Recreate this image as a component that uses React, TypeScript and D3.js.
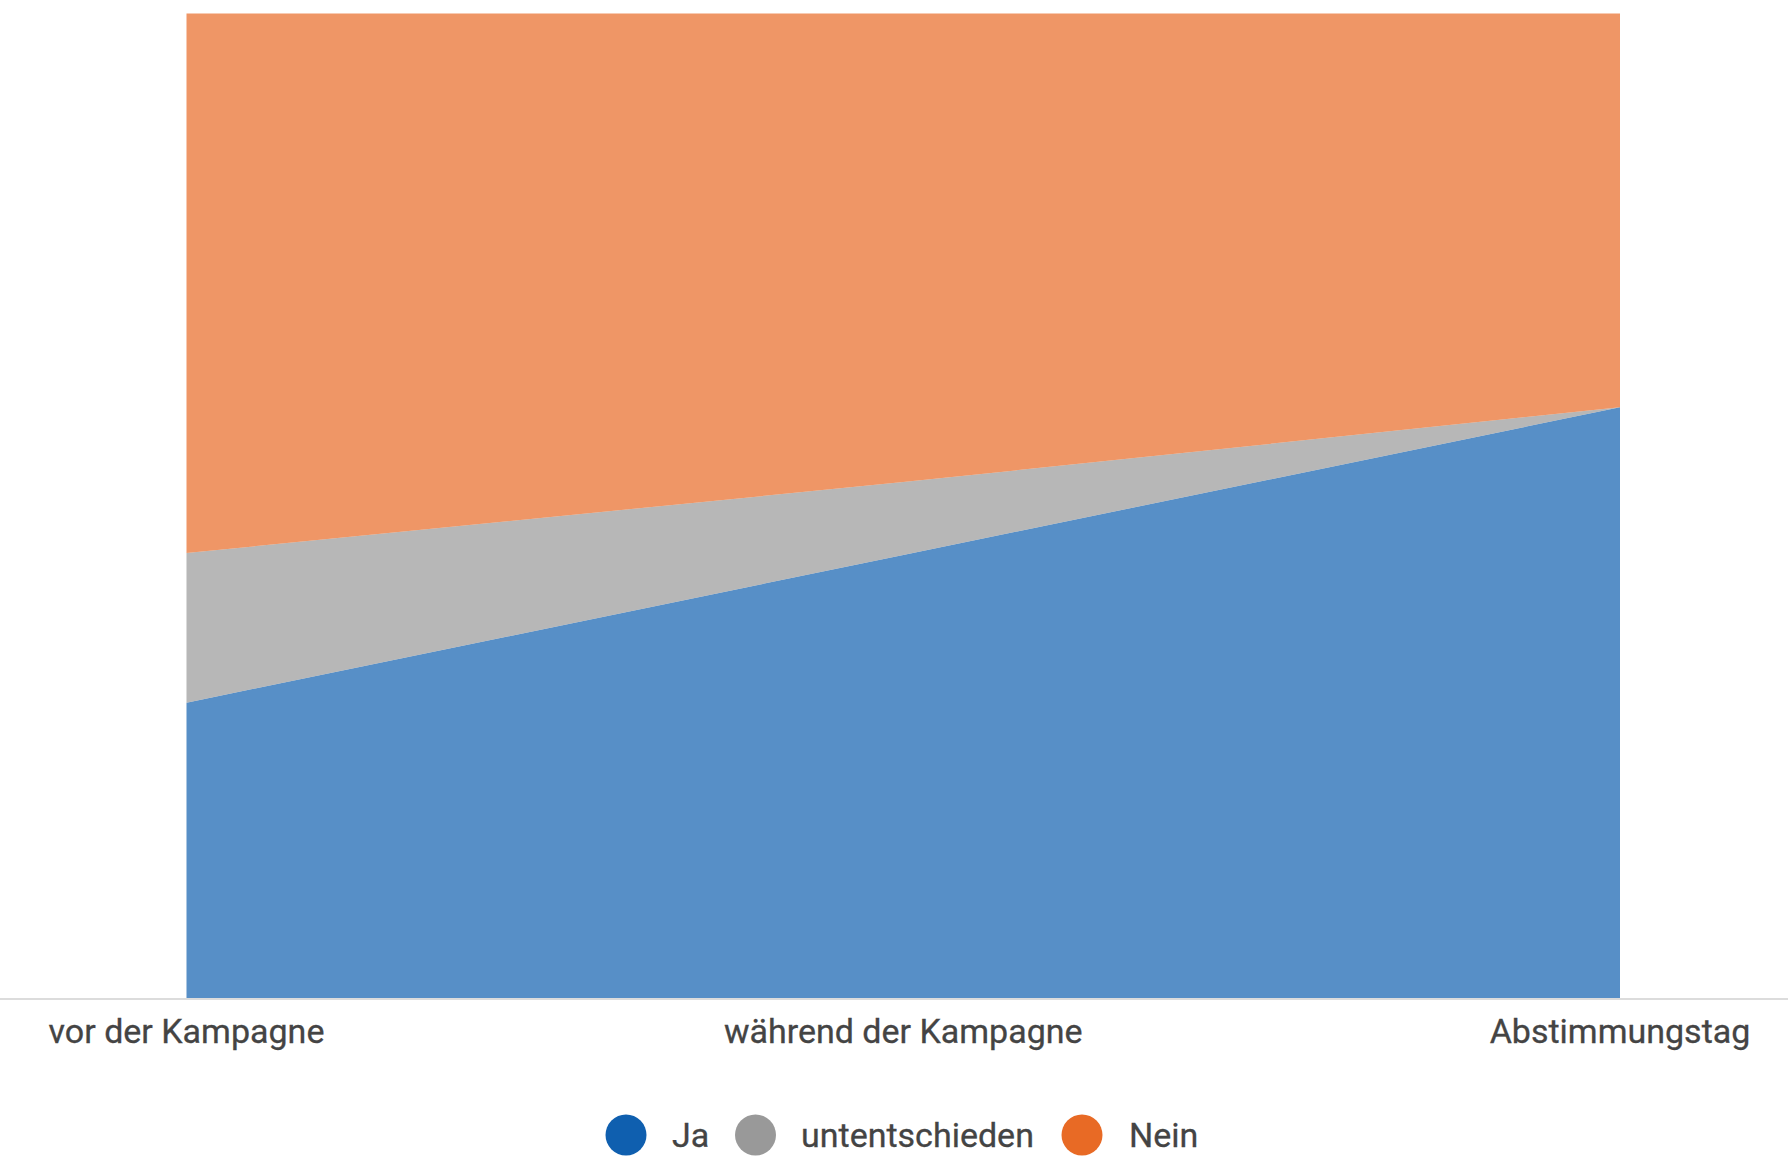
import React from "react";
import * as d3 from "d3";

const categories = ["vor der Kampagne", "während der Kampagne", "Abstimmungstag"];
const seriesKeys = ["Ja", "untentschieden", "Nein"];
const jaValues = [30, 45, 60];
const undecidedValues = [15.2, 7.4, 0];
const neinValues = [54.8, 47.6, 40];
const seriesColors = ["#0F5FAF", "#999999", "#E86A25"];

const W = 1788;
const H = 1157;
const left = 186.5;
const right = 1620;
const top = 13.5;
const bottom = 998;

export default function App() {
  const rows = categories.map((c, i) => ({
    cat: c,
    Ja: jaValues[i],
    untentschieden: undecidedValues[i],
    Nein: neinValues[i],
  }));
  const x = d3.scalePoint<string>().domain(categories).range([left, right]);
  const y = d3.scaleLinear().domain([0, 100]).range([bottom, top]);
  const stack = d3.stack<any>().keys(seriesKeys);
  const layers = stack(rows);
  const area = d3
    .area<any>()
    .x((d) => x(d.data.cat) as number)
    .y0((d) => y(d[0]))
    .y1((d) => y(d[1]))
    .curve(d3.curveLinear);
  const color = d3.scaleOrdinal<string, string>().domain(seriesKeys).range(seriesColors);

  const legendItems = [
    { key: "Ja", cx: 626, tx: 672 },
    { key: "untentschieden", cx: 755.5, tx: 801 },
    { key: "Nein", cx: 1082, tx: 1129 },
  ];

  return (
    <svg
      width={W}
      height={H}
      style={{ position: "absolute", left: 0, top: 0, fontFamily: "Roboto, sans-serif" }}
    >
      <rect width={W} height={H} fill="#fff" />
      {layers.map((layer) => (
        <path
          key={layer.key}
          d={area(layer as any) || ""}
          fill={color(layer.key)}
          fillOpacity={0.7}
        />
      ))}
      <line x1={0} x2={W} y1={999} y2={999} stroke="#d0d0d0" strokeWidth={1.5} />
      {categories.map((c) => (
        <text
          key={c}
          x={x(c) as number}
          y={1043}
          textAnchor="middle"
          fontSize={34}
          fill="#444"
          stroke="#444"
          strokeWidth={0.3}
        >
          {c}
        </text>
      ))}
      {legendItems.map((it) => (
        <g key={it.key}>
          <circle cx={it.cx} cy={1135} r={20.5} fill={color(it.key)} />
          <text x={it.tx} y={1146.5} fontSize={34} fill="#444" stroke="#444" strokeWidth={0.3}>
            {it.key}
          </text>
        </g>
      ))}
    </svg>
  );
}
